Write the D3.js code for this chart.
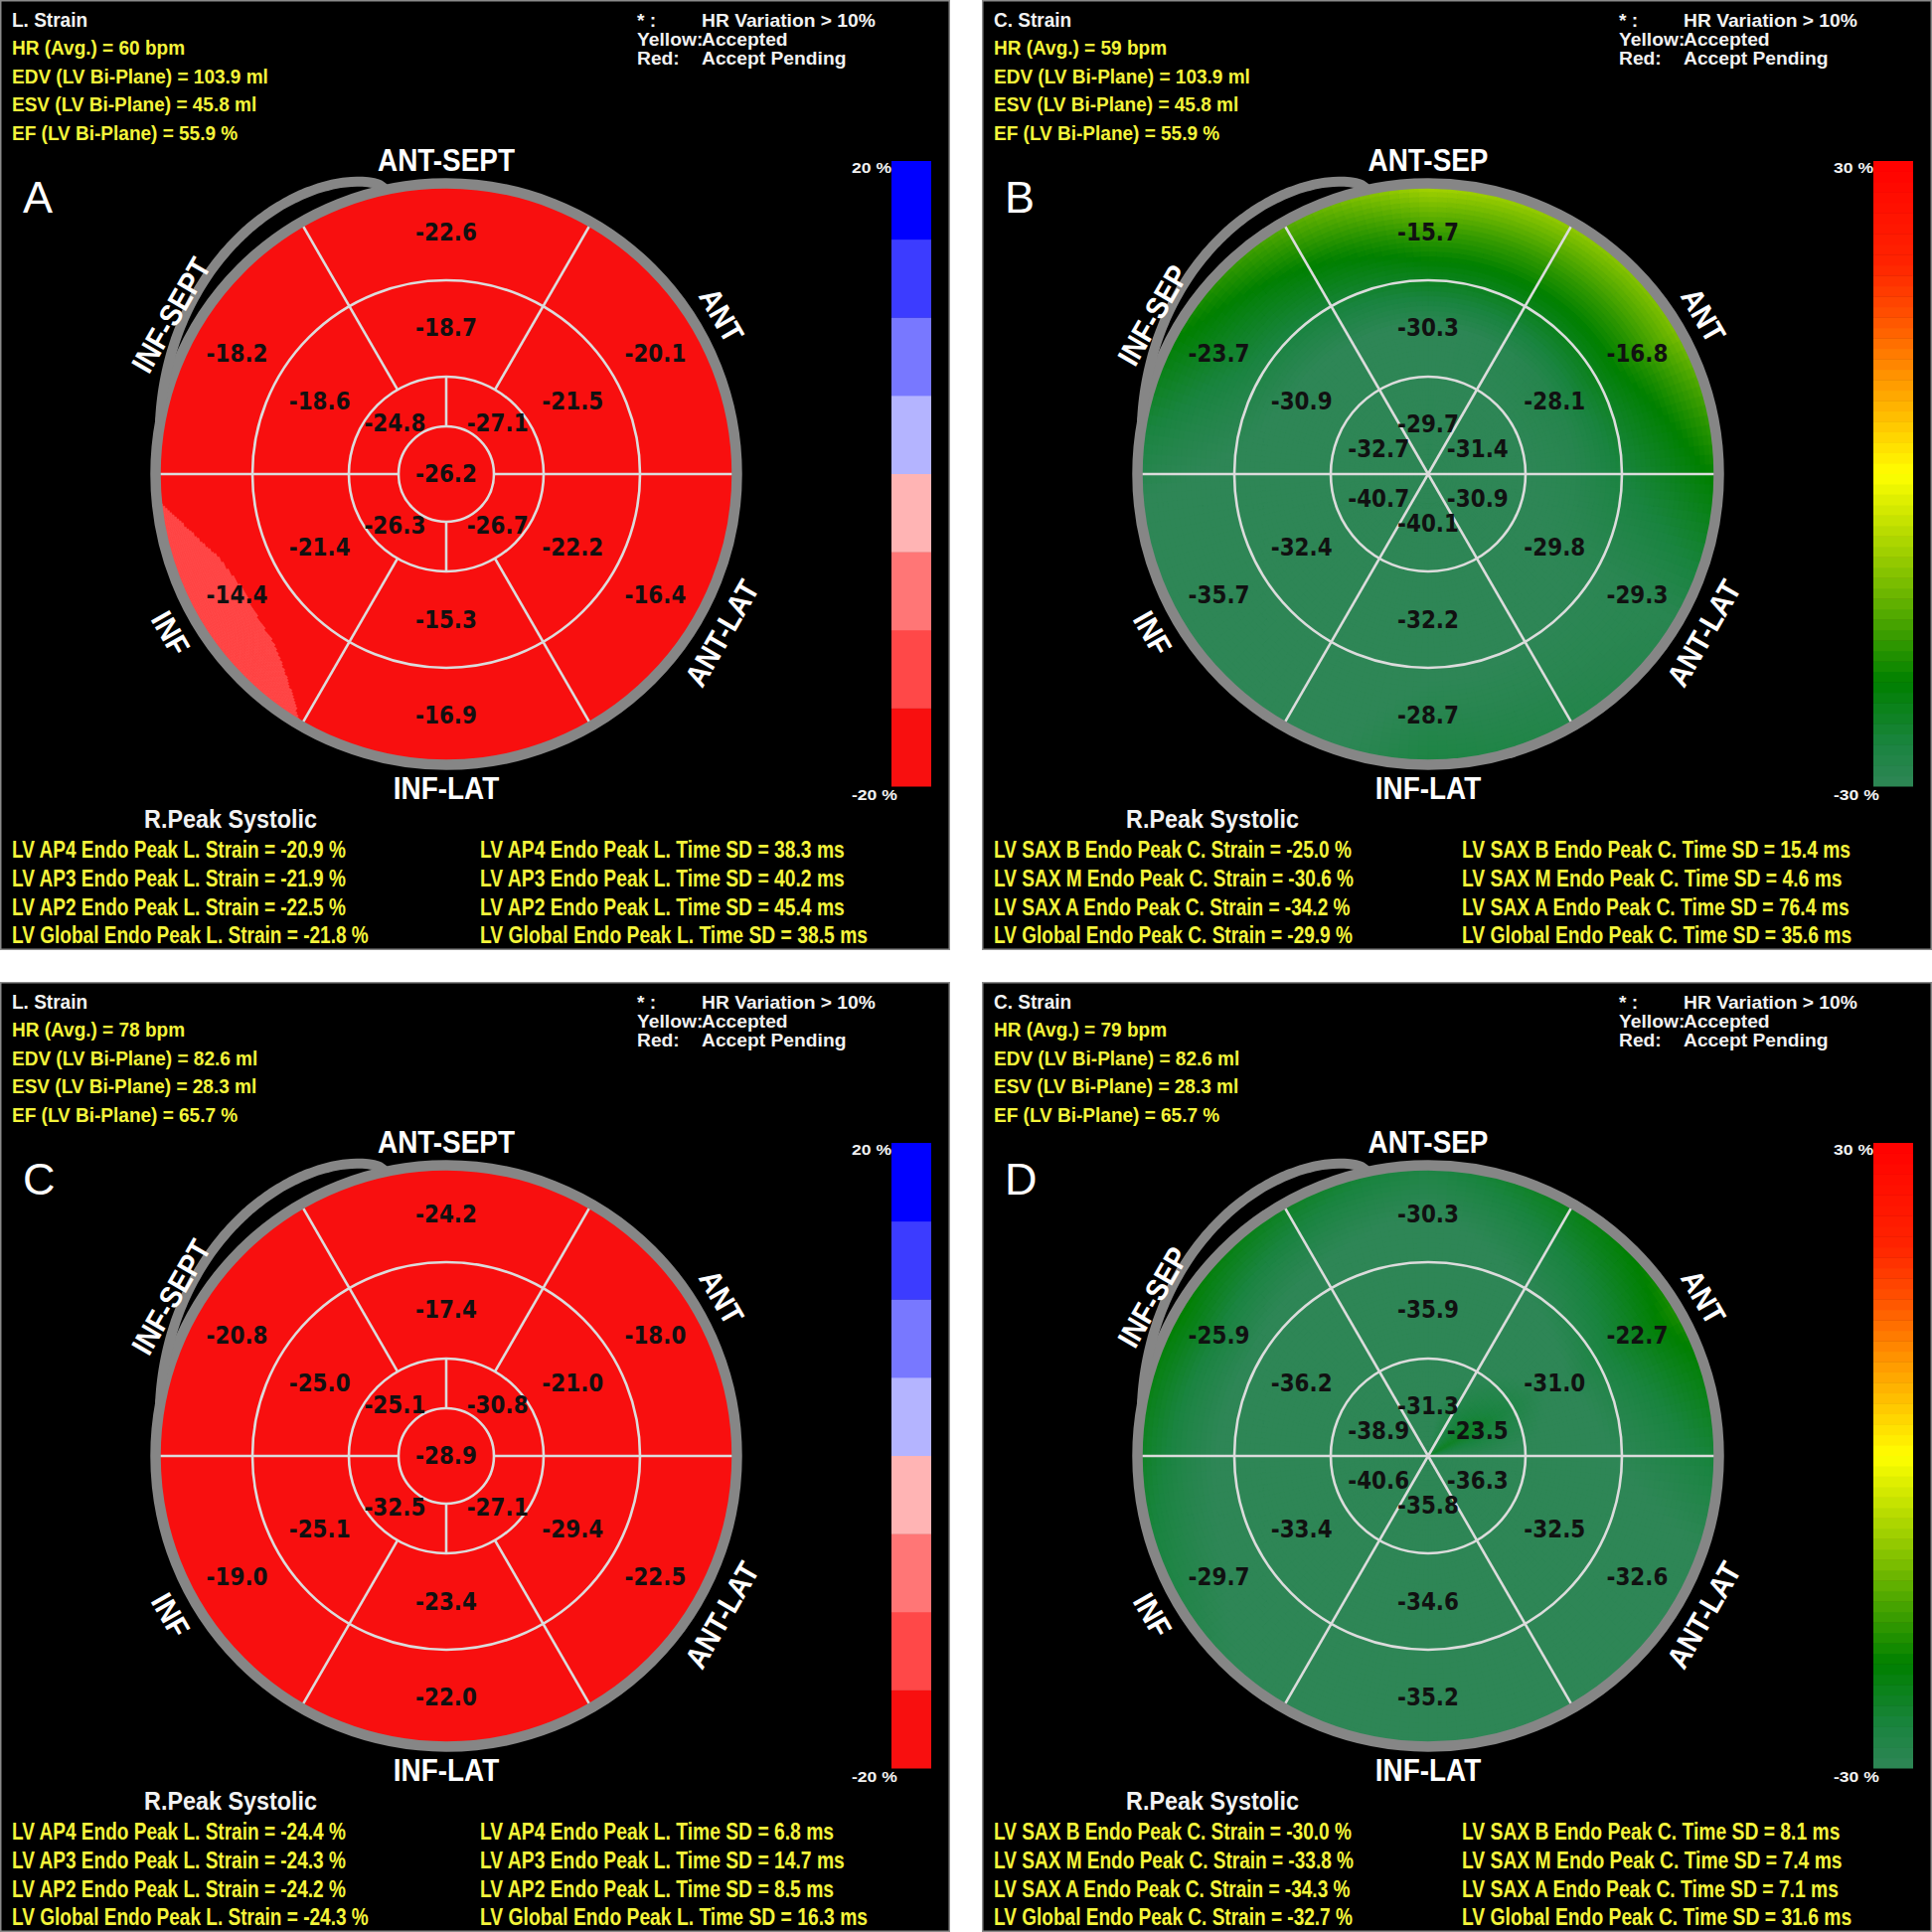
<!DOCTYPE html>
<html><head><meta charset="utf-8">
<script src="https://cdn.jsdelivr.net/npm/d3@7"></script>
<style>html,body{margin:0;padding:0;background:#fff}</style>
</head><body>
<script>
// ---------------- DATA ----------------
const panelIds = ["A", "B", "C", "D"];
const strainKind = ["L", "C", "L", "C"];
const strainTitles = ["L. Strain", "C. Strain", "L. Strain", "C. Strain"];
const hrAvg = ["60", "59", "78", "79"];
const edvValues = ["103.9", "103.9", "82.6", "82.6"];
const esvValues = ["45.8", "45.8", "28.3", "28.3"];
const efValues = ["55.9", "55.9", "65.7", "65.7"];

const wallLabelsL = ["ANT-SEPT", "ANT", "ANT-LAT", "INF-LAT", "INF", "INF-SEPT"];
const wallLabelsC = ["ANT-SEP", "ANT", "ANT-LAT", "INF-LAT", "INF", "INF-SEP"];

// segment order: ANT-SEP(T), ANT, ANT-LAT, INF-LAT, INF, INF-SEP(T)
const basalA = [-22.6, -20.1, -16.4, -16.9, -14.4, -18.2];
const midA = [-18.7, -21.5, -22.2, -15.3, -21.4, -18.6];
const apicalA = [-27.1, -26.7, -26.3, -24.8]; // upper-right, lower-right, lower-left, upper-left
const apexA = -26.2;

const basalB = [-15.7, -16.8, -29.3, -28.7, -35.7, -23.7];
const midB = [-30.3, -28.1, -29.8, -32.2, -32.4, -30.9];
const apicalB = [-29.7, -31.4, -30.9, -40.1, -40.7, -32.7];

const basalC = [-24.2, -18.0, -22.5, -22.0, -19.0, -20.8];
const midC = [-17.4, -21.0, -29.4, -23.4, -25.1, -25.0];
const apicalC = [-30.8, -27.1, -32.5, -25.1];
const apexC = -28.9;

const basalD = [-30.3, -22.7, -32.6, -35.2, -29.7, -25.9];
const midD = [-35.9, -31.0, -32.5, -34.6, -33.4, -36.2];
const apicalD = [-31.3, -23.5, -36.3, -35.8, -40.6, -38.9];

const levelsL = ["AP4", "AP3", "AP2", "Global"];
const levelsC = ["SAX B", "SAX M", "SAX A", "Global"];
const peakStrainA = [-20.9, -21.9, -22.5, -21.8];
const peakStrainB = [-25.0, -30.6, -34.2, -29.9];
const peakStrainC = [-24.4, -24.3, -24.2, -24.3];
const peakStrainD = [-30.0, -33.8, -34.3, -32.7];
const timeSdA = [38.3, 40.2, 45.4, 38.5];
const timeSdB = [15.4, 4.6, 76.4, 35.6];
const timeSdC = [6.8, 14.7, 8.5, 16.3];
const timeSdD = [8.1, 7.4, 7.1, 31.6];

const legendKeys = ["* :", "Yellow:", "Red:"];
const legendTexts = ["HR Variation > 10%", "Accepted", "Accept Pending"];
const colorbarTicksL = [20, -20];
const colorbarTicksC = [30, -30];
const peakLabel = "R.Peak Systolic";

// ---------------- LAYOUT / STYLE ----------------
const SIZE = 1944;
const origins = [[0, 0], [988, 0], [0, 988], [988, 988]];
const PW = 956, PH = 956;
const CX = 449, CY = 477;
const R_OUT = 289, R_MID = 195, R_API = 98, R_APEX = 48;
const R_RING = 292.5;
const ANG6 = [90, 30, -30, -90, -150, 150];
const ANG4 = [45, -45, -135, 135];

const FAM = "'Liberation Sans Narrow','Liberation Sans',Arial,sans-serif";
const F_HDR = "bold 20px " + FAM;
const F_LEG = "bold 18px " + FAM;
const F_BOT = "bold 24px " + FAM;
const F_PEAK = "bold 26px " + FAM;
const F_WALL = "bold 31px " + FAM;
const F_NUM = "bold 24px 'DejaVu Sans',Verdana,sans-serif";
const F_CB = "bold 15px " + FAM;
const F_LET = "45px 'Liberation Sans',Arial,sans-serif";
const YEL = "#f4f43a", WHT = "#f2f2f2";

const panels = panelIds.map((id, i) => {
  const kind = strainKind[i];
  const sets = [[basalA, midA, apicalA, apexA, peakStrainA, timeSdA],
                [basalB, midB, apicalB, null, peakStrainB, timeSdB],
                [basalC, midC, apicalC, apexC, peakStrainC, timeSdC],
                [basalD, midD, apicalD, null, peakStrainD, timeSdD]][i];
  return {id, kind, title: strainTitles[i], hr: hrAvg[i], edv: edvValues[i], esv: esvValues[i], ef: efValues[i],
    basal: sets[0], mid: sets[1], apical: sets[2], apex: sets[3], peak: sets[4], tsd: sets[5]};
});

const svg = d3.select("body").append("svg").attr("width", SIZE).attr("height", SIZE).style("display", "block");
svg.append("rect").attr("width", SIZE).attr("height", SIZE).attr("fill", "#ffffff");

function measure(str, font) {
  const t = svg.append("text").style("font", font).text(str);
  const w = t.node().getComputedTextLength();
  t.remove();
  return w;
}
const sxHdr = 258 / measure("EDV (LV Bi-Plane) = 103.9 ml", F_HDR);
const sxLeg = 175 / measure("HR Variation > 10%", F_LEG);
const sxBotL = 336 / measure("LV AP4 Endo Peak L. Strain = -20.9 %", F_BOT);
const sxBotR = 367 / measure("LV AP4 Endo Peak L. Time SD = 38.3 ms", F_BOT);
const sxPeak = 174 / measure(peakLabel, F_PEAK);
const sxWall = 138 / measure("ANT-SEPT", F_WALL);
const sxNum = 62 / measure("-22.6", F_NUM);
const sxCb = 40 / measure("20 %", F_CB);

function stext(g, str, x, y, font, fill, sx, anchor, rot) {
  return g.append("text")
    .attr("transform", `translate(${x},${y}) rotate(${rot || 0}) scale(${sx},1)`)
    .style("font", font).attr("fill", fill)
    .attr("text-anchor", anchor || "start")
    .text(str);
}

// colour scales
const colorL = d3.scaleThreshold()
  .domain([-15, -10, -5, 0, 5, 10, 15])
  .range(["#f80f0f", "#ff4848", "#ff7676", "#ffb4b4", "#b4b4ff", "#7878ff", "#3c3cff", "#0000ff"]);
const colorC = d3.scaleLinear()
  .domain([-30, -26, -20, -10, 0, 5, 10, 15, 20, 30])
  .range(["#2e8656", "#1a8440", "#008000", "#80c000", "#ffff00", "#ffc400", "#ff8c00", "#ff5200", "#ff2400", "#ff0000"])
  .clamp(true);

function angular(ring, th) {
  if (ring.vals.length === 1) return ring.vals[0];
  const pts = ring.angs.map((a, i) => ({a: ((a % 360) + 360) % 360, v: ring.vals[i]})).sort((p, q) => p.a - q.a);
  th = ((th % 360) + 360) % 360;
  const n = pts.length;
  for (let i = 0; i < n; i++) {
    const p = pts[i], q = pts[(i + 1) % n];
    let qa = q.a; if (i === n - 1) qa += 360;
    let t = th; if (t < p.a) t += 360;
    if (t >= p.a && t <= qa) return p.v + (q.v - p.v) * (t - p.a) / (qa - p.a);
  }
  return pts[0].v;
}

function fieldValue(rings, r, th, extrap) {
  const vs = rings.map(rg => angular(rg, th));
  if (r >= rings[0].r) {
    const k = Math.min((r - rings[0].r) / (rings[0].r - rings[1].r), 1) * extrap;
    return vs[0] + (vs[0] - vs[1]) * k;
  }
  for (let i = 0; i < rings.length - 1; i++) {
    if (r >= rings[i + 1].r) {
      const t = (r - rings[i + 1].r) / (rings[i].r - rings[i + 1].r);
      return vs[i + 1] + (vs[i] - vs[i + 1]) * t;
    }
  }
  return vs[vs.length - 1];
}

const arcGen = d3.arc();
const toD3 = deg => (90 - deg) * Math.PI / 180;

panels.forEach((p, pi) => {
  const [ox, oy] = origins[pi];
  const g = svg.append("g").attr("transform", `translate(${ox},${oy})`);
  g.append("rect").attr("x", 0.75).attr("y", 0.75).attr("width", PW - 1.5).attr("height", PH - 1.5)
    .attr("fill", "#000").attr("stroke", "#8a8a8a").attr("stroke-width", 1.5);

  const isL = p.kind === "L";
  const rings = isL
    ? [{r: 243, vals: p.basal, angs: ANG6}, {r: 147, vals: p.mid, angs: ANG6}, {r: 73, vals: p.apical, angs: ANG4}, {r: 0, vals: [p.apex], angs: [0]}]
    : [{r: 243, vals: p.basal, angs: ANG6}, {r: 147, vals: p.mid, angs: ANG6}, {r: 50, vals: p.apical, angs: ANG6}];
  const color = isL ? colorL : colorC;
  const extrap = isL ? 0.45 : 1.25;

  const bull = g.append("g").attr("transform", `translate(${CX},${CY})`);
  const baseColor = isL ? colorL(-20) : colorC(-30);
  bull.append("circle").attr("r", R_OUT).attr("fill", baseColor);

  const nR = isL ? 145 : 58, nT = isL ? 720 : 180;
  const dr = R_OUT / nR, dt = 360 / nT;
  const cells = [];
  for (let i = 0; i < nR; i++) {
    for (let j = 0; j < nT; j++) {
      const rc = (i + 0.5) * dr, tc = (j + 0.5) * dt;
      const c = color(fieldValue(rings, rc, tc, extrap));
      if (isL && c === baseColor) continue;
      cells.push({r0: i * dr, r1: (i + 1) * dr, a0: j * dt, a1: (j + 1) * dt, c});
    }
  }
  bull.append("g").selectAll("path").data(cells).join("path")
    .attr("d", d => arcGen({innerRadius: d.r0, outerRadius: d.r1, startAngle: toD3(d.a1), endAngle: toD3(d.a0)}))
    .attr("fill", d => d.c).attr("stroke", d => d.c).attr("stroke-width", isL ? 0.6 : 0.8);

  // segment grid
  const lineCol = "#dcdcdc", lw = 2.6;
  const circR = isL ? [R_MID, R_API, R_APEX] : [R_MID, R_API];
  bull.append("g").selectAll("circle").data(circR).join("circle")
    .attr("r", d => d).attr("fill", "none").attr("stroke", lineCol).attr("stroke-width", lw);
  const spokes = isL
    ? [[60, R_API, R_OUT], [120, R_API, R_OUT], [240, R_API, R_OUT], [300, R_API, R_OUT],
       [0, R_APEX, R_OUT], [180, R_APEX, R_OUT], [90, R_APEX, R_API], [270, R_APEX, R_API]]
    : [[60, 0, R_OUT], [120, 0, R_OUT], [240, 0, R_OUT], [300, 0, R_OUT], [0, 0, R_OUT], [180, 0, R_OUT]];
  bull.append("g").selectAll("line").data(spokes).join("line")
    .attr("x1", d => d[1] * Math.cos(d[0] * Math.PI / 180)).attr("y1", d => -d[1] * Math.sin(d[0] * Math.PI / 180))
    .attr("x2", d => d[2] * Math.cos(d[0] * Math.PI / 180)).attr("y2", d => -d[2] * Math.sin(d[0] * Math.PI / 180))
    .attr("stroke", lineCol).attr("stroke-width", lw);

  // outer ring and tail
  const ringCol = "#868686";
  bull.append("circle").attr("r", R_RING).attr("fill", "none").attr("stroke", ringCol).attr("stroke-width", 10.5);
  const tailPts = d3.range(102, 170.01, 1);
  const tail = d3.lineRadial()
    .angle(d => toD3(d))
    .radius(d => { const t = (d - 102) / 68; return R_RING + 25 * Math.sin(Math.PI * Math.pow(t, 0.6)); })
    .curve(d3.curveCatmullRom);
  bull.append("path").attr("d", tail(tailPts)).attr("fill", "none").attr("stroke", ringCol).attr("stroke-width", 10);

  // wall labels
  const wl = isL ? wallLabelsL : wallLabelsC;
  wl.forEach((lab, k) => {
    const a = ANG6[k];
    const rr = (a === 90 || a === -90) ? 316 : 320;
    const x = rr * Math.cos(a * Math.PI / 180), y = -rr * Math.sin(a * Math.PI / 180);
    let rot = 90 - a; rot = ((rot + 540) % 360) - 180;
    if (rot > 90) rot -= 180; if (rot < -90) rot += 180;
    stext(bull, lab, x, y, F_WALL, "#ffffff", sxWall, "middle", rot).attr("dominant-baseline", "central");
  });

  // segment values
  const numCol = "#111111";
  const addNum = (v, x, y) => stext(bull, v.toFixed(1), x, y, F_NUM, numCol, sxNum, "middle").attr("dominant-baseline", "central");
  p.basal.forEach((v, k) => addNum(v, 243 * Math.cos(ANG6[k] * Math.PI / 180), -243 * Math.sin(ANG6[k] * Math.PI / 180)));
  p.mid.forEach((v, k) => addNum(v, 147 * Math.cos(ANG6[k] * Math.PI / 180), -147 * Math.sin(ANG6[k] * Math.PI / 180)));
  if (isL) {
    p.apical.forEach((v, k) => addNum(v, 73 * Math.cos(ANG4[k] * Math.PI / 180), -73 * Math.sin(ANG4[k] * Math.PI / 180)));
    addNum(p.apex, 0, 0);
  } else {
    p.apical.forEach((v, k) => addNum(v, 1.15 * 50 * Math.cos(ANG6[k] * Math.PI / 180), -50 * Math.sin(ANG6[k] * Math.PI / 180)));
  }

  // panel letter
  g.append("text").attr("x", 23).attr("y", 214).style("font", F_LET).attr("fill", "#ffffff").text(p.id);

  // header
  const hdr = [p.title, `HR (Avg.) = ${p.hr} bpm`, `EDV (LV Bi-Plane) = ${p.edv} ml`, `ESV (LV Bi-Plane) = ${p.esv} ml`, `EF (LV Bi-Plane) = ${p.ef} %`];
  const hdrY = [26.5, 55, 83.5, 112, 140.5];
  hdr.forEach((s, k) => stext(g, s, 12, hdrY[k], F_HDR, k === 0 ? WHT : YEL, sxHdr));

  // legend
  const legY = [26.5, 45.5, 65];
  legendKeys.forEach((s, k) => stext(g, s, 641, legY[k], F_LEG, WHT, sxLeg));
  legendTexts.forEach((s, k) => stext(g, s, 706, legY[k], F_LEG, WHT, sxLeg));

  // colorbar
  const cbx = 897, cbw = 40, cbTop = 162, cbBot = 791;
  const ticks = isL ? colorbarTicksL : colorbarTicksC;
  const yS = d3.scaleLinear().domain([ticks[1], ticks[0]]).range([cbBot, cbTop]);
  const stepsV = isL ? d3.range(-20, 20, 5) : d3.range(-30, 30, 1);
  const stepW = isL ? 5 : 1;
  g.append("g").selectAll("rect").data(stepsV).join("rect")
    .attr("x", cbx).attr("width", cbw)
    .attr("y", d => yS(d + stepW)).attr("height", d => yS(d) - yS(d + stepW) + 0.5)
    .attr("fill", d => color(d + stepW / 2));
  stext(g, `${ticks[0]} %`, cbx, 174, F_CB, WHT, sxCb, "end");
  stext(g, `${ticks[1]} %`, 857, 805, F_CB, WHT, sxCb, "start");

  // bottom texts
  stext(g, peakLabel, 232, 833, F_PEAK, WHT, sxPeak, "middle");
  const lv = isL ? levelsL : levelsC;
  const botY = [863, 892, 920.5, 949];
  lv.forEach((lev, k) => {
    stext(g, `LV ${lev} Endo Peak ${p.kind}. Strain = ${p.peak[k].toFixed(1)} %`, 12, botY[k], F_BOT, YEL, sxBotL);
    stext(g, `LV ${lev} Endo Peak ${p.kind}. Time SD = ${p.tsd[k].toFixed(1)} ms`, 483, botY[k], F_BOT, YEL, sxBotR);
  });
});
</script>
</body></html>
